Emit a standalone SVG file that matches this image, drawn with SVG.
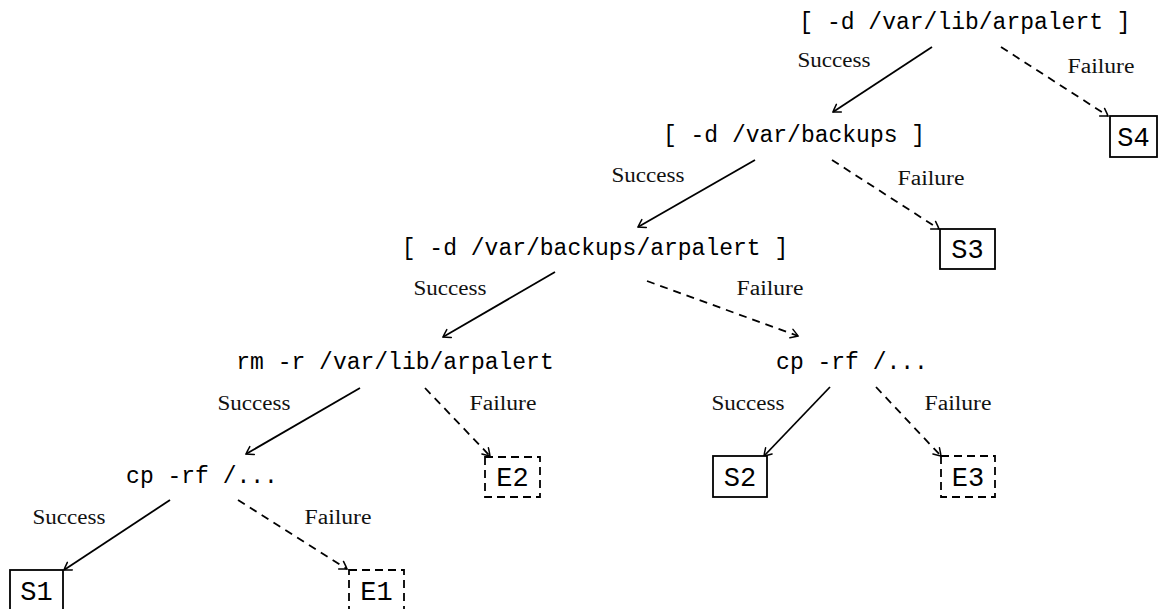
<svg xmlns="http://www.w3.org/2000/svg" width="1161" height="609" viewBox="0 0 1161 609">
<defs>
<marker id="arr" viewBox="-10 -6 12 12" markerWidth="12" markerHeight="12" refX="0" refY="0" orient="auto" markerUnits="userSpaceOnUse">
<path d="M -7 -4.5 Q -2 -1.5 0 0 Q -2 1.5 -7 4.5" fill="none" stroke="#000" stroke-width="1.5" stroke-linecap="round"/>
</marker>
<style>
.cmd{font-family:"Liberation Mono","DejaVu Sans Mono",monospace;font-size:23px;fill:#000;text-anchor:middle}
.bt{font-family:"Liberation Mono","DejaVu Sans Mono",monospace;font-size:27px;fill:#000;text-anchor:middle}
.lbl{font-family:"Liberation Serif","DejaVu Serif",serif;font-size:20px;fill:#111;text-anchor:middle}
.box{fill:#fff;stroke:#000;stroke-width:1.8}
.dbox{fill:#fff;stroke:#000;stroke-width:1.8;stroke-dasharray:8 5}
.s{fill:none;stroke:#000;stroke-width:1.8;marker-end:url(#arr)}
.f{fill:none;stroke:#000;stroke-width:1.8;stroke-dasharray:8 6;marker-end:url(#arr)}
</style>
</defs>
<g id="connectors">
<line class="s" x1="932" y1="47" x2="833" y2="112"/>
<line class="f" x1="1001" y1="47" x2="1108" y2="116"/>
<line class="s" x1="755" y1="160" x2="638" y2="227"/>
<line class="f" x1="832" y1="160" x2="939" y2="229"/>
<line class="s" x1="555" y1="272" x2="443" y2="337"/>
<line class="f" x1="647" y1="281" x2="798" y2="336"/>
<line class="s" x1="360" y1="388" x2="246" y2="454"/>
<line class="f" x1="425" y1="388" x2="490" y2="456"/>
<line class="s" x1="830" y1="387" x2="764" y2="456"/>
<line class="f" x1="876" y1="387" x2="941" y2="456"/>
<line class="s" x1="170" y1="500" x2="64" y2="570"/>
<line class="f" x1="238" y1="500" x2="347" y2="569"/>
<text class="lbl" x="834" y="67" textLength="73" lengthAdjust="spacingAndGlyphs">Success</text>
<text class="lbl" x="1101" y="73" textLength="67" lengthAdjust="spacingAndGlyphs">Failure</text>
<text class="lbl" x="648" y="182" textLength="73" lengthAdjust="spacingAndGlyphs">Success</text>
<text class="lbl" x="931" y="185" textLength="67" lengthAdjust="spacingAndGlyphs">Failure</text>
<text class="lbl" x="450" y="295" textLength="73" lengthAdjust="spacingAndGlyphs">Success</text>
<text class="lbl" x="770" y="295" textLength="67" lengthAdjust="spacingAndGlyphs">Failure</text>
<text class="lbl" x="254" y="410" textLength="73" lengthAdjust="spacingAndGlyphs">Success</text>
<text class="lbl" x="503" y="410" textLength="67" lengthAdjust="spacingAndGlyphs">Failure</text>
<text class="lbl" x="748" y="410" textLength="73" lengthAdjust="spacingAndGlyphs">Success</text>
<text class="lbl" x="958" y="410" textLength="67" lengthAdjust="spacingAndGlyphs">Failure</text>
<text class="lbl" x="69" y="524" textLength="73" lengthAdjust="spacingAndGlyphs">Success</text>
<text class="lbl" x="338" y="524" textLength="67" lengthAdjust="spacingAndGlyphs">Failure</text>
</g>
<g id="n1"><text class="cmd" x="965" y="29">[ -d /var/lib/arpalert ]</text></g>
<g id="n2"><text class="cmd" x="794" y="142">[ -d /var/backups ]</text></g>
<g id="n3"><text class="cmd" x="595" y="255">[ -d /var/backups/arpalert ]</text></g>
<g id="n4"><text class="cmd" x="395" y="369">rm -r /var/lib/arpalert</text></g>
<g id="n5"><text class="cmd" x="202" y="483">cp -rf /...</text></g>
<g id="n6"><text class="cmd" x="852" y="369">cp -rf /...</text></g>
<g id="S4"><rect class="box" x="1110" y="116" width="47" height="41"/><text class="bt" x="1133.5" y="146">S4</text></g>
<g id="S3"><rect class="box" x="940" y="229" width="55" height="40"/><text class="bt" x="967.5" y="258">S3</text></g>
<g id="S2"><rect class="box" x="713" y="456" width="54" height="41"/><text class="bt" x="740" y="486">S2</text></g>
<g id="E3"><rect class="dbox" x="941" y="456" width="54" height="41"/><text class="bt" x="968" y="486">E3</text></g>
<g id="E2"><rect class="dbox" x="485" y="457" width="55" height="40"/><text class="bt" x="512.5" y="486">E2</text></g>
<g id="S1"><rect class="box" x="10" y="570" width="53" height="45"/><text class="bt" x="36.5" y="600">S1</text></g>
<g id="E1"><rect class="dbox" x="349" y="570" width="55" height="45"/><text class="bt" x="376.5" y="600">E1</text></g>
</svg>
